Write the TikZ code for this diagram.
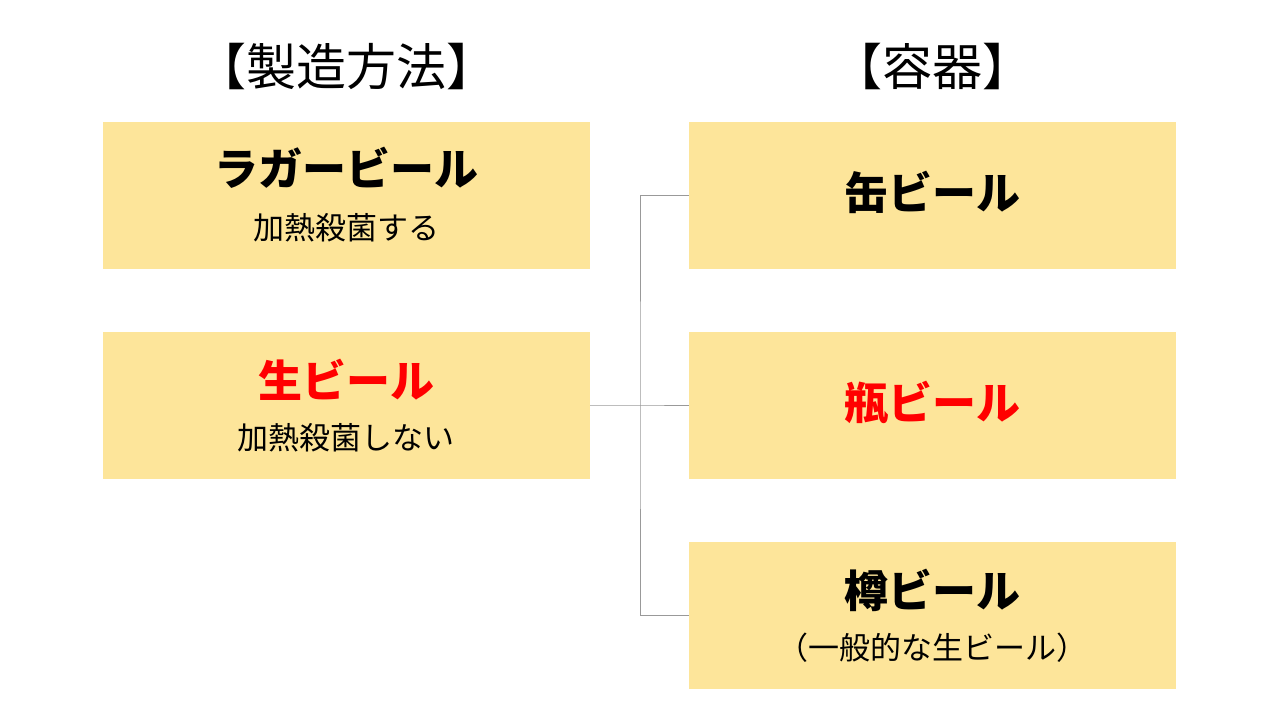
\documentclass[tikz,border=0pt]{standalone}
\usepackage{fontspec}
\setmainfont{Noto Sans CJK JP}
\newfontfamily\cjkb{Noto Sans CJK JP}[BoldFont={* Bold}]
\begin{document}
\begin{tikzpicture}[x=1pt,y=-1pt,
  box/.style={fill=boxy,draw=none,minimum width=487pt,minimum height=147pt,inner sep=0pt},
  main/.style={font=\fontsize{44}{48}\selectfont\bfseries},
  sub/.style={font=\fontsize{31}{34}\selectfont},
  ttl/.style={font=\fontsize{50}{54}\selectfont},
  conn/.style={draw=gray!80,line width=0.8pt}]
\definecolor{boxy}{HTML}{FDE59A}
\useasboundingbox (0,0) rectangle (1280,720);
\node[ttl] (t1) at (346,66) {【製造方法】};
\node[ttl] (t2) at (932,66) {【容器】};
\node[box] (l1) at (346.5,195.5) {};
\node[box] (l2) at (346.5,405) {};
\node[box] (r1) at (932.5,195.5) {};
\node[box] (r2) at (932.5,405) {};
\node[box] (r3) at (932.5,615) {};
\node[main] (l1m) at (346,168) {ラガービール};
\node[sub] (l1s) at (346,228) {加熱殺菌する};
\node[main,text=red] (l2m) at (346,380) {生ビール};
\node[sub] (l2s) at (346,438) {加熱殺菌しない};
\node[main] (r1m) at (932,192) {缶ビール};
\node[main,text=red] (r2m) at (932,402) {瓶ビール};
\node[main] (r3m) at (932,590) {樽ビール};
\node[sub] (r3s) at (932,648) {（一般的な生ビール）};
\coordinate (j) at (640,405);
\draw[conn] (l2.east) -- (j) -- (r2.west);
\draw[conn] (r1.west) -| (j) |- (r3.west);
\end{tikzpicture}
\end{document}
